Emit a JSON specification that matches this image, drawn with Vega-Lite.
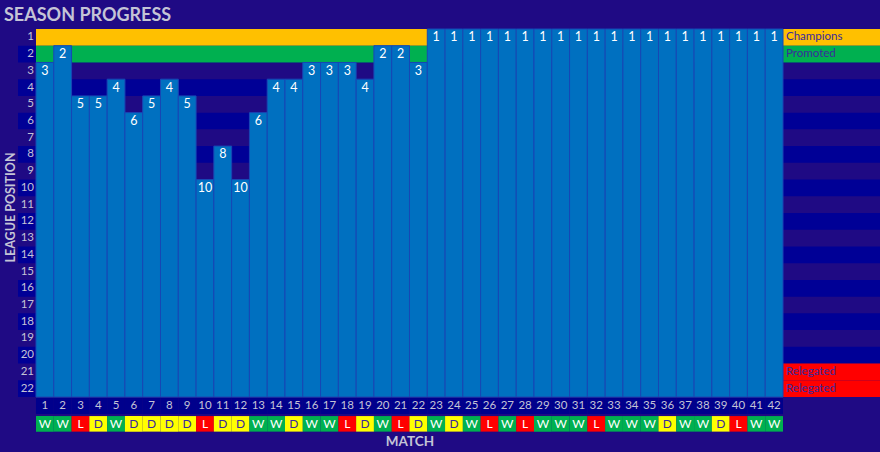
{
  "$schema": "https://vega.github.io/schema/vega-lite/v6.json",
  "width": 747,
  "height": 368,
  "autosize": {"type": "none"},
  "padding": {"left": 36, "top": 29, "right": 97, "bottom": 55},
  "background": "#1F0A84",
  "config": {
    "view": {"stroke": null},
    "font": "Lato",
    "axis": {
      "domain": false, "ticks": false, "grid": false, "labels": false,
      "titleColor": "#C4C4D6", "titleFont": "Lato", "titleFontWeight": "bold"
    },
    "axisX": {
      "titleFontSize": 13.5, "titleX": 373.5, "titleY": 44.7, "titleBaseline": "middle", "titleAlign": "center"
    },
    "axisY": {
      "titleFontSize": 12.5, "titleAngle": 270, "titleX": -26, "titleY": 178, "titleBaseline": "middle", "titleAlign": "center"
    }
  },
  "title": {
    "text": "SEASON PROGRESS",
    "anchor": "start",
    "frame": "group",
    "dx": -32,
    "dy": 18,
    "offset": 7,
    "baseline": "alphabetic",
    "font": "Lato",
    "fontSize": 18,
    "fontWeight": "bold",
    "color": "#C4C4D6"
  },
  "datasets": {
    "rows": [
      {"row": 1, "zone": "Champions"}, {"row": 2, "zone": "Promoted"},
      {"row": 3, "zone": ""}, {"row": 4, "zone": ""}, {"row": 5, "zone": ""},
      {"row": 6, "zone": ""}, {"row": 7, "zone": ""}, {"row": 8, "zone": ""},
      {"row": 9, "zone": ""}, {"row": 10, "zone": ""}, {"row": 11, "zone": ""},
      {"row": 12, "zone": ""}, {"row": 13, "zone": ""}, {"row": 14, "zone": ""},
      {"row": 15, "zone": ""}, {"row": 16, "zone": ""}, {"row": 17, "zone": ""},
      {"row": 18, "zone": ""}, {"row": 19, "zone": ""}, {"row": 20, "zone": ""},
      {"row": 21, "zone": "Relegated"}, {"row": 22, "zone": "Relegated"}
    ],
    "matches": [
      {"match": 1, "pos": 3, "result": "W"}, {"match": 2, "pos": 2, "result": "W"},
      {"match": 3, "pos": 5, "result": "L"}, {"match": 4, "pos": 5, "result": "D"},
      {"match": 5, "pos": 4, "result": "W"}, {"match": 6, "pos": 6, "result": "D"},
      {"match": 7, "pos": 5, "result": "D"}, {"match": 8, "pos": 4, "result": "D"},
      {"match": 9, "pos": 5, "result": "D"}, {"match": 10, "pos": 10, "result": "L"},
      {"match": 11, "pos": 8, "result": "D"}, {"match": 12, "pos": 10, "result": "D"},
      {"match": 13, "pos": 6, "result": "W"}, {"match": 14, "pos": 4, "result": "W"},
      {"match": 15, "pos": 4, "result": "D"}, {"match": 16, "pos": 3, "result": "W"},
      {"match": 17, "pos": 3, "result": "W"}, {"match": 18, "pos": 3, "result": "L"},
      {"match": 19, "pos": 4, "result": "D"}, {"match": 20, "pos": 2, "result": "W"},
      {"match": 21, "pos": 2, "result": "L"}, {"match": 22, "pos": 3, "result": "D"},
      {"match": 23, "pos": 1, "result": "W"}, {"match": 24, "pos": 1, "result": "D"},
      {"match": 25, "pos": 1, "result": "W"}, {"match": 26, "pos": 1, "result": "L"},
      {"match": 27, "pos": 1, "result": "W"}, {"match": 28, "pos": 1, "result": "L"},
      {"match": 29, "pos": 1, "result": "W"}, {"match": 30, "pos": 1, "result": "W"},
      {"match": 31, "pos": 1, "result": "W"}, {"match": 32, "pos": 1, "result": "L"},
      {"match": 33, "pos": 1, "result": "W"}, {"match": 34, "pos": 1, "result": "W"},
      {"match": 35, "pos": 1, "result": "W"}, {"match": 36, "pos": 1, "result": "D"},
      {"match": 37, "pos": 1, "result": "W"}, {"match": 38, "pos": 1, "result": "W"},
      {"match": 39, "pos": 1, "result": "D"}, {"match": 40, "pos": 1, "result": "L"},
      {"match": 41, "pos": 1, "result": "W"}, {"match": 42, "pos": 1, "result": "W"}
    ]
  },
  "layer": [
    {
      "data": {"name": "rows"},
      "transform": [{"filter": "datum.row % 2 == 0"}],
      "mark": {"type": "rect", "yOffset": -8.364, "y2Offset": 8.364, "color": "#000096"},
      "encoding": {
        "x": {"datum": -0.512, "type": "quantitative", "scale": {"domain": [0.5, 42.5]}, "axis": {"title": "MATCH"}},
        "x2": {"datum": 47.954},
        "y": {"field": "row", "type": "quantitative", "scale": {"domain": [0.5, 22.5], "reverse": true}, "axis": {"title": "LEAGUE POSITION"}},
        "y2": {"field": "row"}
      }
    },
    {
      "data": {"name": "rows"},
      "transform": [{"filter": "datum.zone != ''"}],
      "mark": {"type": "rect", "yOffset": -8.364, "y2Offset": 8.364},
      "encoding": {
        "x": {"datum": 0.5, "type": "quantitative", "scale": {"domain": [0.5, 42.5]}},
        "x2": {"datum": 47.954},
        "y": {"field": "row", "type": "quantitative", "scale": {"domain": [0.5, 22.5], "reverse": true}},
        "y2": {"field": "row"},
        "color": {
          "condition": [
            {"test": "datum.zone == 'Champions'", "value": "#FFC000"},
            {"test": "datum.zone == 'Promoted'", "value": "#00B050"}
          ],
          "value": "#FF0000"
        }
      }
    },
    {
      "data": {"name": "rows"},
      "transform": [{"filter": "datum.zone != ''"}],
      "mark": {"type": "text", "align": "left", "baseline": "middle", "dx": 3, "fontSize": 11.5, "font": "Lato", "color": "#3A2A9E"},
      "encoding": {
        "x": {"datum": 42.5, "type": "quantitative", "scale": {"domain": [0.5, 42.5]}},
        "y": {"field": "row", "type": "quantitative", "scale": {"domain": [0.5, 22.5], "reverse": true}},
        "text": {"field": "zone"}
      }
    },
    {
      "data": {"name": "rows"},
      "mark": {"type": "text", "align": "right", "baseline": "middle", "dx": -2, "fontSize": 11.5, "font": "Lato", "color": "#C4C4D6"},
      "encoding": {
        "x": {"datum": 0.5, "type": "quantitative", "scale": {"domain": [0.5, 42.5]}},
        "y": {"field": "row", "type": "quantitative", "scale": {"domain": [0.5, 22.5], "reverse": true}},
        "text": {"field": "row"}
      }
    },
    {
      "data": {"name": "matches"},
      "mark": {"type": "rect", "xOffset": -8.893, "x2Offset": 8.893, "yOffset": -8.364, "fill": "#0070C0", "stroke": "#1747B5", "strokeWidth": 1},
      "encoding": {
        "x": {"field": "match", "type": "quantitative", "scale": {"domain": [0.5, 42.5]}},
        "x2": {"field": "match"},
        "y": {"field": "pos", "type": "quantitative", "scale": {"domain": [0.5, 22.5], "reverse": true}},
        "y2": {"datum": 22.5}
      }
    },
    {
      "data": {"name": "matches"},
      "mark": {"type": "text", "baseline": "middle", "align": "center", "fontSize": 12.5, "font": "Lato", "color": "#FFFFFF"},
      "encoding": {
        "x": {"field": "match", "type": "quantitative", "scale": {"domain": [0.5, 42.5]}},
        "y": {"field": "pos", "type": "quantitative", "scale": {"domain": [0.5, 22.5], "reverse": true}},
        "text": {"field": "pos"}
      }
    },
    {
      "data": {"name": "matches"},
      "mark": {"type": "rect", "xOffset": -8.893, "x2Offset": 8.893, "color": "#00008C"},
      "encoding": {
        "x": {"field": "match", "type": "quantitative", "scale": {"domain": [0.5, 42.5]}},
        "x2": {"field": "match"},
        "y": {"datum": 22.56, "type": "quantitative", "scale": {"domain": [0.5, 22.5], "reverse": true}},
        "y2": {"datum": 23.52}
      }
    },
    {
      "data": {"name": "matches"},
      "mark": {"type": "text", "baseline": "middle", "align": "center", "fontSize": 11.5, "font": "Lato", "color": "#C4C4D6"},
      "encoding": {
        "x": {"field": "match", "type": "quantitative", "scale": {"domain": [0.5, 42.5]}},
        "y": {"datum": 23.06, "type": "quantitative", "scale": {"domain": [0.5, 22.5], "reverse": true}},
        "text": {"field": "match"}
      }
    },
    {
      "data": {"name": "matches"},
      "mark": {"type": "rect", "xOffset": -8.893, "x2Offset": 8.893},
      "encoding": {
        "x": {"field": "match", "type": "quantitative", "scale": {"domain": [0.5, 42.5]}},
        "x2": {"field": "match"},
        "y": {"datum": 23.64, "type": "quantitative", "scale": {"domain": [0.5, 22.5], "reverse": true}},
        "y2": {"datum": 24.57},
        "color": {
          "condition": [
            {"test": "datum.result == 'W'", "value": "#00B050"},
            {"test": "datum.result == 'D'", "value": "#FFFF00"}
          ],
          "value": "#FF0000"
        }
      }
    },
    {
      "data": {"name": "matches"},
      "mark": {"type": "text", "baseline": "middle", "align": "center", "fontSize": 12, "font": "Lato"},
      "encoding": {
        "x": {"field": "match", "type": "quantitative", "scale": {"domain": [0.5, 42.5]}},
        "y": {"datum": 24.1, "type": "quantitative", "scale": {"domain": [0.5, 22.5], "reverse": true}},
        "text": {"field": "result"},
        "color": {
          "condition": {"test": "datum.result == 'D'", "value": "#3A2A9E"},
          "value": "#FFFFFF"
        }
      }
    }
  ]
}
